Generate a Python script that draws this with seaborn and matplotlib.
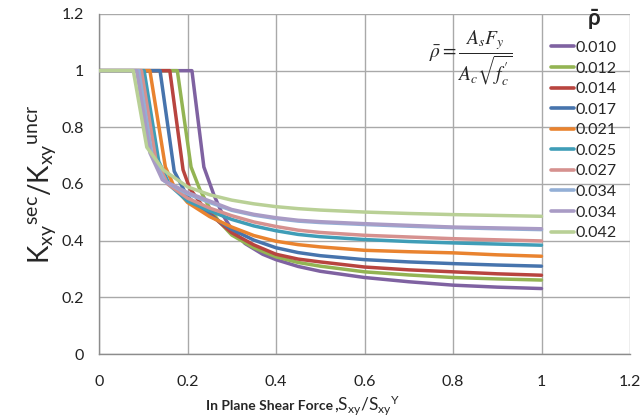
import matplotlib
matplotlib.use("Agg")
import matplotlib.pyplot as plt
import seaborn as sns
import pandas as pd
from matplotlib.ticker import FuncFormatter

# ---- data ----
labels = ["0.010", "0.012", "0.014", "0.017", "0.021",
          "0.025", "0.027", "0.034", "0.034", "0.042"]
colors = ["#7f62a1", "#93b453", "#b8443f", "#4774ad", "#e9832f",
          "#3f9db7", "#d6918f", "#93afd6", "#a99bc5", "#b9d096"]

x_010 = [0, 0.21, 0.237, 0.26, 0.28, 0.30, 0.33, 0.37, 0.40, 0.45, 0.50, 0.60, 0.70, 0.80, 0.90, 1.00]
k_010 = [1, 1, 0.66, 0.56, 0.49, 0.44, 0.39, 0.352, 0.333, 0.309, 0.292, 0.270, 0.255, 0.243, 0.236, 0.231]

x_012 = [0, 0.177, 0.208, 0.228, 0.25, 0.27, 0.30, 0.35, 0.40, 0.45, 0.50, 0.60, 0.70, 0.80, 0.90, 1.00]
k_012 = [1, 1, 0.66, 0.58, 0.515, 0.47, 0.42, 0.375, 0.343, 0.323, 0.310, 0.290, 0.279, 0.270, 0.265, 0.261]

x_014 = [0, 0.16, 0.19, 0.205, 0.235, 0.27, 0.30, 0.35, 0.40, 0.45, 0.50, 0.60, 0.70, 0.80, 0.90, 1.00]
k_014 = [1, 1, 0.65, 0.585, 0.52, 0.468, 0.428, 0.385, 0.352, 0.335, 0.325, 0.307, 0.297, 0.290, 0.283, 0.278]

x_017 = [0, 0.138, 0.17, 0.20, 0.25, 0.30, 0.35, 0.40, 0.45, 0.50, 0.60, 0.70, 0.80, 0.90, 1.00]
k_017 = [1, 1, 0.645, 0.555, 0.49, 0.44, 0.402, 0.375, 0.358, 0.347, 0.333, 0.325, 0.319, 0.314, 0.310]

x_021 = [0, 0.115, 0.15, 0.17, 0.20, 0.25, 0.30, 0.35, 0.40, 0.45, 0.50, 0.60, 0.70, 0.80, 0.90, 1.00]
k_021 = [1, 1, 0.66, 0.59, 0.535, 0.485, 0.448, 0.418, 0.398, 0.386, 0.378, 0.366, 0.361, 0.357, 0.350, 0.345]

x_025 = [0, 0.102, 0.135, 0.16, 0.20, 0.25, 0.30, 0.35, 0.40, 0.45, 0.50, 0.60, 0.70, 0.80, 0.90, 1.00]
k_025 = [1, 1, 0.68, 0.595, 0.54, 0.505, 0.475, 0.452, 0.435, 0.422, 0.414, 0.404, 0.397, 0.392, 0.388, 0.384]

x_027 = [0, 0.096, 0.128, 0.155, 0.20, 0.25, 0.30, 0.35, 0.40, 0.45, 0.50, 0.60, 0.70, 0.80, 0.90, 1.00]
k_027 = [1, 1, 0.69, 0.60, 0.55, 0.515, 0.488, 0.466, 0.450, 0.437, 0.429, 0.419, 0.413, 0.407, 0.403, 0.399]

x_034a = [0, 0.090, 0.120, 0.148, 0.20, 0.25, 0.30, 0.35, 0.40, 0.45, 0.50, 0.60, 0.70, 0.80, 0.90, 1.00]
k_034a = [1, 1, 0.70, 0.61, 0.565, 0.535, 0.507, 0.490, 0.478, 0.469, 0.464, 0.457, 0.451, 0.446, 0.442, 0.439]

x_034b = [0, 0.085, 0.115, 0.143, 0.20, 0.25, 0.30, 0.35, 0.40, 0.45, 0.50, 0.60, 0.70, 0.80, 0.90, 1.00]
k_034b = [1, 1, 0.71, 0.615, 0.57, 0.54, 0.51, 0.493, 0.481, 0.472, 0.467, 0.460, 0.454, 0.448, 0.445, 0.442]

x_042 = [0, 0.0775, 0.108, 0.145, 0.20, 0.25, 0.30, 0.35, 0.40, 0.45, 0.50, 0.60, 0.70, 0.80, 0.90, 1.00]
k_042 = [1, 1, 0.73, 0.65, 0.59, 0.562, 0.543, 0.53, 0.52, 0.513, 0.508, 0.501, 0.496, 0.492, 0.489, 0.486]

x_ticks = [0, 0.2, 0.4, 0.6, 0.8, 1.0, 1.2]
y_ticks = [0, 0.2, 0.4, 0.6, 0.8, 1.0, 1.2]

series_x = [x_010, x_012, x_014, x_017, x_021, x_025, x_027, x_034a, x_034b, x_042]
series_k = [k_010, k_012, k_014, k_017, k_021, k_025, k_027, k_034a, k_034b, k_042]

# ---- style ----
sns.set_style("white")
plt.rcParams["font.family"] = ["Lato", "DejaVu Sans"]
plt.rcParams["mathtext.fontset"] = "custom"
plt.rcParams["mathtext.rm"] = "Lato"
plt.rcParams["mathtext.it"] = "Lato:italic"
plt.rcParams["mathtext.bf"] = "Lato:bold"

fig = plt.figure(figsize=(6.4, 4.2), dpi=100)
ax = fig.add_axes([99 / 640, 66 / 420, 531 / 640, 340 / 420])

for i, (xs, ks) in enumerate(zip(series_x, series_k)):
    df = pd.DataFrame({"x": xs, "k": ks})
    sns.lineplot(data=df, x="x", y="k", ax=ax, color=colors[i], lw=2.5,
                 label=labels[i], sort=False, estimator=None, zorder=3 + i)

ax.set_xlim(0, 1.2)
ax.set_ylim(0, 1.2)
ax.set_xticks(x_ticks)
ax.set_yticks(y_ticks)
fmt = FuncFormatter(lambda v, p: "{:g}".format(round(v, 2)))
ax.xaxis.set_major_formatter(fmt)
ax.yaxis.set_major_formatter(fmt)
ax.tick_params(axis="both", labelsize=11.5, colors="#222222")
ax.tick_params(axis="x", length=0, pad=15)
ax.tick_params(axis="y", length=5, color="#9a9a9a", width=1, pad=6)
ax.grid(True, color="#a9a9a9", lw=1.0)
ax.set_axisbelow(True)
for s in ["top", "right"]:
    ax.spines[s].set_visible(False)
for s in ["left", "bottom"]:
    ax.spines[s].set_color("#8c8c8c")
    ax.spines[s].set_linewidth(1.0)

ax.set_ylabel(r"$\mathregular{K_{xy}{}^{sec}/K_{xy}{}^{uncr}}$", fontsize=20, labelpad=2)
ax.set_xlabel("")
fig.text(333 / 640, 1 - 406 / 420, "In Plane Shear Force", fontsize=10,
         fontweight="bold", ha="right", va="center")
fig.text(334 / 640, 1 - 405 / 420, r",$\mathregular{S_{xy}/S_{xy}{}^{Y}}$", fontsize=12.5,
         ha="left", va="center")

ax.text(0.84, 1.045, r"$\bar{\rho}=\dfrac{A_sF_y}{A_c\sqrt{f_c^{\prime}}}$",
        fontsize=14, ha="center", va="center", math_fontfamily="stix", zorder=20)

# legend title glyph (drawn as its own text above the legend)
fig.text(594 / 640, 1 - 20 / 420, r"$\mathbf{\bar{\rho}}$", fontsize=16,
         fontweight="bold", ha="center", va="center")

leg = ax.legend(frameon=False, loc="upper left",
                bbox_to_anchor=(0.84, 0.94), fontsize=11.5, handlelength=1.4,
                handletextpad=0.12, labelspacing=0.4, borderaxespad=0)
for line in leg.get_lines():
    line.set_linewidth(2.6)

fig.savefig("out.png", dpi=100)
